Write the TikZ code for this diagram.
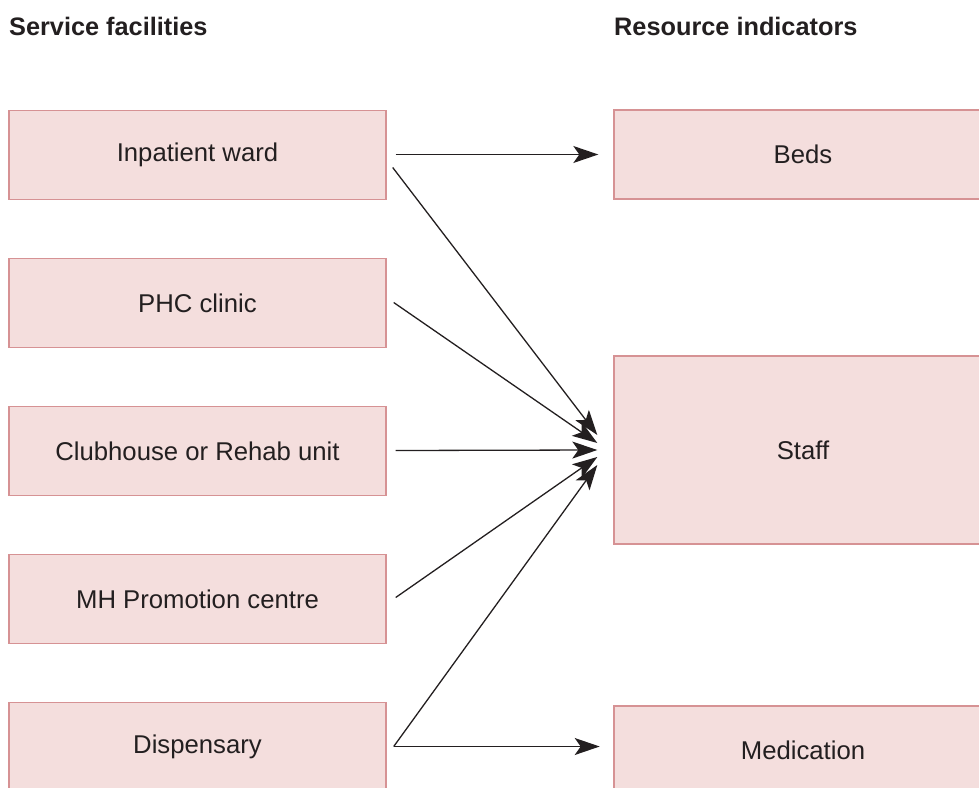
\documentclass[tikz,border=0pt]{standalone}
\usepackage{fontspec}
\setmainfont{Liberation Sans}
\usetikzlibrary{arrows.meta,calc}
\definecolor{boxfill}{RGB}{244,222,221}
\definecolor{boxline}{RGB}{214,146,148}
\definecolor{ink}{RGB}{35,31,32}
\tikzset{
  facility/.style={draw=boxline, fill=boxfill, line width=1.4pt,
    minimum width=377pt, minimum height=89pt, inner sep=0pt,
    font=\fontsize{25.7}{30}\selectfont, text=ink},
  indicator/.style={facility, minimum width=378pt},
  heading/.style={anchor=base west, inner sep=0pt,
    font=\fontsize{25.3}{30}\selectfont\bfseries, text=ink},
  link/.style={draw=ink, line width=1.3pt,
    -{Stealth[length=25pt,width=17pt,inset=6pt]}}
}
\begin{document}
\begin{tikzpicture}[x=1pt,y=-1pt]
  \useasboundingbox (0,0) rectangle (979,787);
  \clip (0,0) rectangle (979,787);

  % column headings
  \node[heading] (hleft)  at (9,35)   {Service facilities};
  \node[heading] (hright) at (614,35) {Resource indicators};

  % service facilities
  \node[facility] (inp)  at (197.5,155) {Inpatient ward};
  \node[facility] (phc)  at (197.5,303) {PHC clinic};
  \node[facility] (club) at (197.5,451) {Clubhouse or Rehab unit};
  \node[facility] (mhp)  at (197.5,599) {MH Promotion centre};
  \node[facility] (disp) at (197.5,747) {Dispensary};

  % resource indicators
  \node[indicator] (beds)  at (803,154.5) {Beds};
  \node[indicator, minimum height=188pt] (staff) at (803,450) {Staff};
  \node[indicator] (med)   at (803,750.5) {Medication};

  % start points beside the facility boxes
  \coordinate (inpA)  at ($(inp.east)+(9,-0.5)$);
  \coordinate (inpB)  at ($(inp.east)+(6,12.5)$);
  \coordinate (phcA)  at ($(phc.east)+(7,-0.5)$);
  \coordinate (clubA) at ($(club.east)+(9,-0.5)$);
  \coordinate (mhpA)  at ($(mhp.east)+(9,-1.5)$);
  \coordinate (dispA) at ($(disp.east)+(7,-0.5)$);

  % end points fanned in front of the staff box
  \coordinate (st1) at ($(staff.west)+(-16,-15)$);
  \coordinate (st2) at ($(staff.west)+(-16,-7)$);
  \coordinate (st3) at ($(staff.west)+(-16,0)$);
  \coordinate (st4) at ($(staff.west)+(-16,7)$);
  \coordinate (st5) at ($(staff.west)+(-16,15)$);
  \coordinate (bedsA) at ($(beds.west)+(-15,0)$);
  \coordinate (medA)  at ($(dispA)+(206,0)$);

  % connectors
  \draw[link] (inpA)  -- (bedsA);
  \draw[link] (inpB)  -- (st1);
  \draw[link] (phcA)  -- (st2);
  \draw[link] (clubA) -- (st3);
  \draw[link] (mhpA)  -- (st4);
  \draw[link] (dispA) -- (st5);
  \draw[link] (dispA) -- (medA);
\end{tikzpicture}
\end{document}
